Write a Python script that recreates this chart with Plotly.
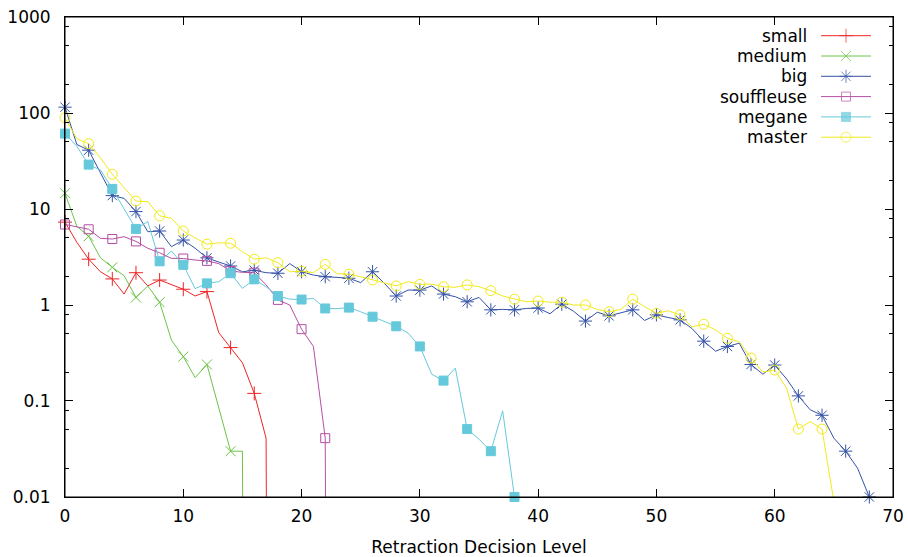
import plotly.graph_objects as go

# ---------------- data (value at each integer level; 0 = nothing left) ----------------
small = [7.3, 4.5, 3.0, 2.22, 1.87, 1.30, 2.17, 1.58, 1.82, 1.62, 1.46, 1.24, 1.38,
         0.515, 0.36, 0.25, 0.12, 0.041, 0]
medium = [14.6, 6.6, 5.2, 3.1, 2.47, 2.02, 1.2, 1.58, 1.07, 0.43, 0.29, 0.175, 0.24,
          0.087, 0.03, 0.03, 0]
big = [115, 47, 41, 24, 13.8, 12.9, 9.4, 5.8, 5.9, 4.05, 4.75, 3.9, 3.1, 2.8, 2.55,
       2.22, 2.3, 2.17, 2.14, 2.7, 2.22, 2.05, 1.97, 1.94, 1.9, 1.71, 2.22, 1.68, 1.24,
       1.43, 1.43, 1.58, 1.30, 1.22, 1.08, 1.2, 0.89, 0.9, 0.89, 0.92, 0.93, 0.81, 1.02,
       0.86, 0.68, 0.84, 0.77, 0.83, 0.89, 0.69, 0.79, 0.74, 0.70, 0.57, 0.42, 0.33,
       0.37, 0.40, 0.24, 0.19, 0.237, 0.17, 0.113, 0.081, 0.071, 0.041, 0.030, 0.020,
       0.010]
souffleuse = [6.9, 6.5, 6.15, 4.95, 4.87, 5.15, 4.6, 3.9, 3.5, 3.06, 3.05, 2.94, 2.88,
              2.7, 2.26, 2.19, 2.17, 1.62, 1.13, 1.0, 0.56, 0.37, 0.041, 0]
megane = [61, 45, 29, 25.5, 16.2, 10, 6.2, 7.4, 2.85, 3.65, 2.62, 1.48, 1.68, 1.75,
          2.14, 1.49, 1.85, 1.55, 1.24, 1.15, 1.14, 1.17, 0.92, 0.915, 0.94, 0.85,
          0.755, 0.67, 0.60, 0.51, 0.37, 0.19, 0.163, 0.22, 0.051, 0.04, 0.03, 0.079,
          0.01, 0]
master = [89, 54, 48, 34, 23, 16.7, 12.1, 11.9, 8.5, 8.0, 5.9, 5.0, 4.3, 4.45, 4.4,
          3.6, 3.0, 3.1, 2.76, 2.22, 2.25, 2.17, 2.65, 2.12, 2.09, 1.97, 1.82, 1.71,
          1.58, 1.75, 1.64, 1.65, 1.55, 1.53, 1.62, 1.55, 1.41, 1.24, 1.15, 1.08, 1.1,
          1.07, 1.07, 1.0, 1.0, 0.9, 0.85, 0.9, 1.15, 0.96, 0.82, 0.87, 0.79, 0.59,
          0.63, 0.55, 0.45, 0.415, 0.28, 0.2, 0.21, 0.136, 0.051, 0.061, 0.051, 0.009]

series_names = ["small", "medium", "big", "souffleuse", "megane", "master"]
series_values = [small, medium, big, souffleuse, megane, master]

x_ticks = [0, 10, 20, 30, 40, 50, 60, 70]
y_ticks = [0.01, 0.1, 1, 10, 100, 1000]
y_tick_labels = ["0.01", "0.1", "1", "10", "100", "1000"]
x_title = "Retraction Decision Level"

# ---------------- styles ----------------
colors = ["#f02424", "#6cc447", "#3553a6", "#b64ea4", "#66c9db", "#f2ea1a"]
symbols = ["cross-thin-open", "x-thin-open", "asterisk-open", "square-open",
           "square", "circle-open"]
sizes = [10, 10, 11, 9, 9, 10]
FONT = "DejaVu Sans"
FS = 17
FLOOR = 1e-30  # stands in for 0 on the log axis (line drops off the bottom)

fig = go.Figure()

for name, vals, c, sym, sz in zip(series_names, series_values, colors, symbols, sizes):
    xs = list(range(len(vals)))
    ys = [v if v > 0 else FLOOR for v in vals]
    fig.add_trace(go.Scatter(x=xs, y=ys, mode="lines", line=dict(color=c, width=1),
                             showlegend=False, hoverinfo="skip"))
    mx = [x for x in xs if x % 2 == 0 and vals[x] > 0]
    my = [vals[x] for x in mx]
    mk = dict(symbol=sym, size=sz, color=c, line=dict(color=c, width=1))
    fig.add_trace(go.Scatter(x=mx, y=my, mode="markers", marker=mk, name=name,
                             showlegend=False, cliponaxis=False))

# ---------------- layout geometry (page pixels; body margin removed) --------
W, H = 908, 557
PL, PR, PT, PB = 65, 893, 17, 497          # plot frame in page pixels
L, R, T, B = PL, W - PR, PT, H - PB
pw, ph = PR - PL, PB - PT

# ---------------- gnuplot-style key (text left, sample right) ----------------
key_top_px, key_step_px = 35.7, 20.3
text_right_px, line_l_px, line_r_px = 809, 821, 871
def fx(px):
    return (px - PL) / pw
def fy(py):
    return (PB - py) / ph
for i, (name, c, sym, sz) in enumerate(zip(series_names, colors, symbols, sizes)):
    yy = fy(key_top_px + i * key_step_px)
    fig.add_annotation(x=fx(text_right_px), y=yy, xref="paper", yref="paper",
                       text=name, showarrow=False, xanchor="right", yanchor="middle",
                       font=dict(family=FONT, size=FS, color="#000000"))
    fig.add_trace(go.Scatter(
        x=[fx(line_l_px), fx((line_l_px + line_r_px) / 2), fx(line_r_px)],
        y=[yy, yy, yy], xaxis="x2", yaxis="y2", mode="lines+markers",
        line=dict(color=c, width=1),
        marker=dict(symbol=sym, size=[0, sz, 0], color=c, line=dict(color=c, width=1)),
        showlegend=False, hoverinfo="skip", cliponaxis=False))

minor_vals = []
for d in [0.01, 0.1, 1, 10, 100]:
    minor_vals += [2 * d, 5 * d, 8 * d]

fig.add_shape(type="rect", xref="paper", yref="paper", x0=0, x1=1, y0=0, y1=1,
              line=dict(color="black", width=1), layer="above")

fig.update_layout(
    width=W, height=H,
    margin=dict(l=L, r=R, t=T, b=B, autoexpand=False),
    paper_bgcolor="white", plot_bgcolor="white",
    font=dict(family=FONT, size=FS, color="#000000"),
    showlegend=False,
    xaxis=dict(range=[0, 70], tickvals=x_ticks, ticks="inside", ticklen=8,
               tickcolor="black", tickwidth=1, showline=True, linecolor="black",
               linewidth=1, mirror="ticks", showgrid=False, zeroline=False,
               ticklabelstandoff=4, automargin=False,
               title=dict(text=x_title, standoff=16, font=dict(size=FS))),
    yaxis=dict(type="log", range=[-2.0002, 3.0002], tickvals=y_ticks,
               ticktext=y_tick_labels,
               ticks="inside", ticklen=8, tickcolor="black", tickwidth=1,
               showline=True, linecolor="black", linewidth=1, mirror="ticks",
               showgrid=False, zeroline=False, ticklabelstandoff=10, automargin=False,
               minor=dict(tickmode="array", tickvals=minor_vals, ticks="inside",
                          ticklen=4, tickcolor="black", tickwidth=1, showgrid=False)),
    xaxis2=dict(overlaying="x", range=[0, 1], visible=False),
    yaxis2=dict(overlaying="y", range=[0, 1], visible=False),
)

fig.write_html("out.html", config={"displayModeBar": False, "staticPlot": True},
               post_script="document.body.style.margin='0';"
                           "document.body.style.overflow='hidden';")
